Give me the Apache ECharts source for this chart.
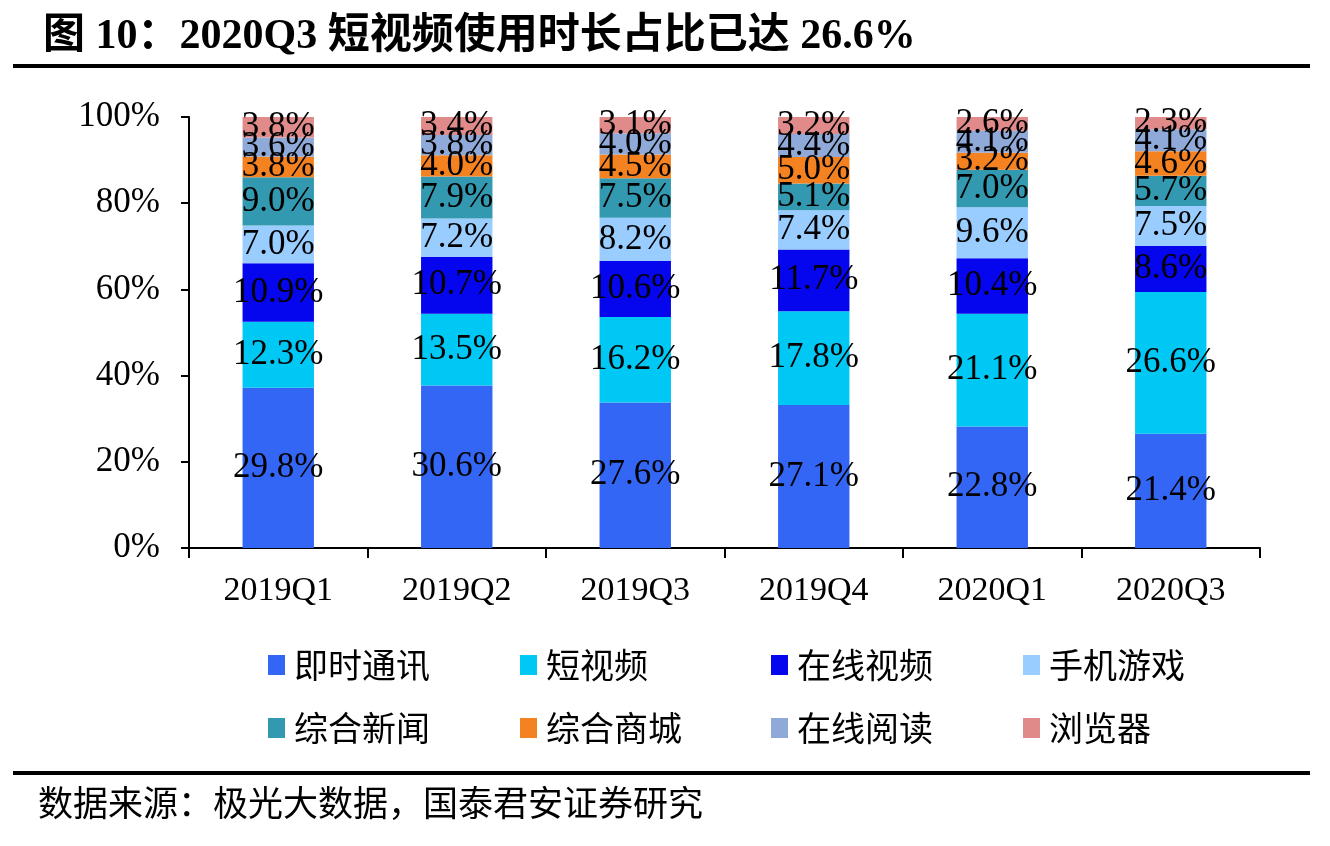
<!DOCTYPE html>
<html>
<head>
<meta charset="utf-8">
<script src="https://cdn.jsdelivr.net/npm/echarts@6/dist/echarts.min.js"></script>
<style>
html,body{margin:0;padding:0;background:#fff;}
#chart{width:1330px;height:846px;}
</style>
</head>
<body>
<div id="chart"></div>
<script>
const categories = ['2019Q1','2019Q2','2019Q3','2019Q4','2020Q1','2020Q3'];
const seriesNames = ['即时通讯','短视频','在线视频','手机游戏','综合新闻','综合商城','在线阅读','浏览器'];
const imValues      = [29.8, 30.6, 27.6, 27.1, 22.8, 21.4];
const shortVideo    = [12.3, 13.5, 16.2, 17.8, 21.1, 26.6];
const onlineVideo   = [10.9, 10.7, 10.6, 11.7, 10.4, 8.6];
const mobileGames   = [7.0, 7.2, 8.2, 7.4, 9.6, 7.5];
const newsValues    = [9.0, 7.9, 7.5, 5.1, 7.0, 5.7];
const mallValues    = [3.8, 4.0, 4.5, 5.0, 3.2, 4.6];
const readingValues = [3.6, 3.8, 4.0, 4.4, 4.1, 4.1];
const browserValues = [3.8, 3.4, 3.1, 3.2, 2.6, 2.3];
const yTickLabels = ['0%','20%','40%','60%','80%','100%'];

const rawSeries = [imValues, shortVideo, onlineVideo, mobileGames, newsValues, mallValues, readingValues, browserValues];
const colors = ['#3366F5','#00C8F5','#0505EE','#99CCFF','#3399B0','#F58220','#8FAAD9','#E08A8A'];

// 100% stacked: each bar normalised by its own total
const totals = categories.map((c, i) => rawSeries.reduce((s, arr) => s + arr[i], 0));

const serif = '"Liberation Serif","Times New Roman",serif';
const cjk = '"Noto Sans CJK SC","Liberation Serif",sans-serif';

const series = rawSeries.map((arr, k) => ({
  name: seriesNames[k],
  type: 'bar',
  stack: 'total',
  barWidth: '40%',
  itemStyle: { color: colors[k] },
  data: arr.map((v, i) => ({ value: v / totals[i] * 100, raw: v })),
  label: {
    show: true,
    position: 'inside',
    color: '#000',
    fontFamily: serif,
    fontSize: 35,
    formatter: p => p.data.raw.toFixed(1) + '%'
  },
  emphasis: { disabled: true }
}));

const legendCols = [263, 515, 766, 1018];
const legends = legendCols.map((x, c) => ({
  orient: 'vertical',
  left: x,
  top: 643,
  itemWidth: 17,
  itemHeight: 20,
  itemGap: 29,
  icon: 'rect',
  data: [seriesNames[c], seriesNames[c + 4]],
  textStyle: { fontFamily: cjk, fontSize: 34, color: '#000', padding: [0, 0, 0, 4] },
  selectedMode: false
}));

const chart = echarts.init(document.getElementById('chart'));
chart.setOption({
  animation: false,
  backgroundColor: '#fff',
  title: {
    text: '图 10：2020Q3 短视频使用时长占比已达 26.6%',
    left: 38,
    top: 11,
    textStyle: { fontFamily: serif + ',"Noto Sans CJK SC"', fontWeight: 'bold', fontSize: 42, color: '#000' }
  },
  grid: { left: 189, right: 70, top: 117, bottom: 298 },
  legend: legends,
  xAxis: {
    type: 'category',
    data: categories,
    axisLine: { lineStyle: { color: '#000', width: 2 } },
    axisTick: { show: true, length: 10, lineStyle: { color: '#000', width: 2 } },
    axisLabel: { fontFamily: serif, fontSize: 34, color: '#000', margin: 26 }
  },
  yAxis: {
    type: 'value',
    min: 0,
    max: 100,
    interval: 20,
    axisLine: { show: true, lineStyle: { color: '#000', width: 2 } },
    axisTick: { show: true, length: 8, lineStyle: { color: '#000', width: 2 } },
    splitLine: { show: false },
    axisLabel: {
      fontFamily: serif, fontSize: 35, color: '#000', margin: 29,
      formatter: v => yTickLabels[Math.round(v / 20)]
    }
  },
  series: series,
  graphic: [
    { type: 'rect', shape: { x: 13, y: 64, width: 1297, height: 4 }, style: { fill: '#000' } },
    { type: 'rect', shape: { x: 13, y: 771, width: 1297, height: 4 }, style: { fill: '#000' } },
    { type: 'text', left: 38, top: 785, style: { text: '数据来源：极光大数据，国泰君安证券研究', font: '35px "Noto Sans CJK SC"', fill: '#000' } }
  ]
});
</script>
</body>
</html>
